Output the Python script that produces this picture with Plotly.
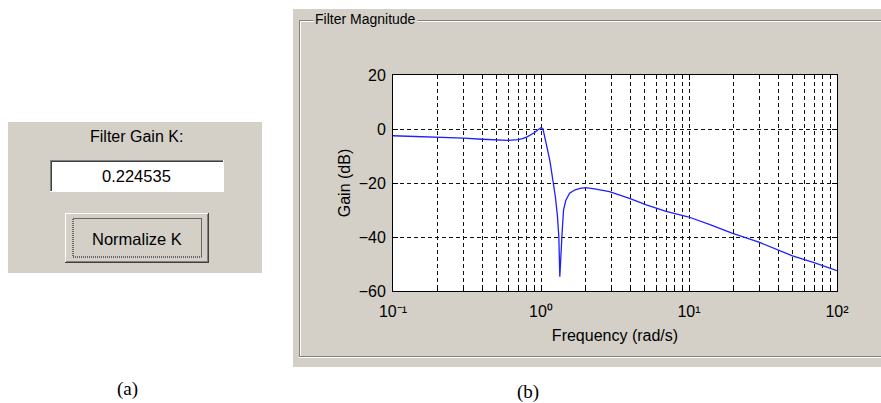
import plotly.graph_objects as go

# ---------------- data ----------------
freq_rad_s = [0.1, 0.15, 0.2, 0.3, 0.4, 0.5, 0.6, 0.7, 0.75, 0.8, 0.85, 0.9, 0.95, 1.0,
              1.03, 1.07, 1.1, 1.15, 1.2, 1.25, 1.29, 1.32, 1.34, 1.36, 1.39, 1.42,
              1.47, 1.56, 1.7, 1.84, 2.0, 2.3, 2.9, 4.0, 5.15, 7.0, 9.85, 14.0, 19.5,
              30.0, 50.0, 70.0, 100.0]
gain_db = [-2.5, -2.8, -3.0, -3.4, -3.8, -4.1, -4.2, -3.9, -3.6, -3.0, -2.3, -1.4, -0.4, 0.5,
           0.1, -3.5, -7.0, -12.0, -18.0, -25.0, -32.0, -40.0, -54.7, -45.0, -38.0, -30.0,
           -26.5, -23.8, -22.5, -22.0, -21.7, -22.2, -23.2, -25.8, -28.1, -30.5, -32.5, -35.5, -38.6,
           -42.0, -47.0, -49.5, -52.5]

x_major_vals = [0.1, 1, 10, 100]
x_major_text = ["10⁻¹", "10⁰", "10¹", "10²"]
x_minor_vals = [0.2, 0.3, 0.4, 0.5, 0.6, 0.7, 0.8, 0.9,
                2, 3, 4, 5, 6, 7, 8, 9,
                20, 30, 40, 50, 60, 70, 80, 90]
y_tick_vals = [-60, -40, -20, 0, 20]

gain_k_label = "Filter Gain K:"
gain_k_value = "0.224535"
button_label = "Normalize K"
panel_title = "Filter Magnitude"

# ---------------- layout helpers ----------------
W, H = 881, 403
GRAY = "#D4D0C8"
FONT = "Liberation Sans, Arial, sans-serif"


def X(px):
    return px / W


def Y(py):
    return 1 - py / H


def rect(x0, y0, x1, y1, fill, line=None, dash=None, width=1):
    d = dict(type="rect", xref="paper", yref="paper",
             x0=X(x0), y0=Y(y1), x1=X(x1), y1=Y(y0), fillcolor=fill, layer="below")
    if line:
        d["line"] = dict(color=line, width=width, dash=dash or "solid")
    else:
        d["line"] = dict(width=0)
    return d


def hline(x0, x1, y, color, width=1, dash="solid"):
    return dict(type="line", xref="paper", yref="paper", x0=X(x0), x1=X(x1), y0=Y(y), y1=Y(y),
                line=dict(color=color, width=width, dash=dash), layer="below")


def vline(x, y0, y1, color, width=1, dash="solid"):
    return dict(type="line", xref="paper", yref="paper", x0=X(x), x1=X(x), y0=Y(y0), y1=Y(y1),
                line=dict(color=color, width=width, dash=dash), layer="below")


shapes = [
    # panel (a)
    rect(8, 122, 262, 273, GRAY),
    # edit box (sunken)
    rect(50, 160, 224, 192, "white"),
    hline(50, 224, 160.5, "#808080"), hline(51, 223, 161.5, "#404040"),
    vline(50.5, 160, 192, "#808080"), vline(51.5, 161, 191, "#404040"),
    hline(50, 224, 191.5, "white"), vline(223.5, 160, 192, "white"),
    # button (raised)
    rect(65, 213, 209, 263, GRAY),
    hline(65, 209, 213.5, "white"), vline(65.5, 213, 263, "white"),
    hline(65, 209, 262.5, "#404040"), vline(208.5, 213, 263, "#404040"),
    hline(66, 208, 261.5, "#808080"), vline(207.5, 214, 262, "#808080"),
    rect(73, 218.5, 201.5, 257, "rgba(0,0,0,0)", line="black", dash="1px,1px"),
    # panel (b)
    rect(293, 9, 881, 367, GRAY),
    hline(299, 881, 20.5, "#808080"), hline(300, 881, 21.5, "white"),
    vline(299.5, 20, 357, "#808080"), vline(300.5, 21, 357, "white"),
    hline(299, 881, 356.5, "#808080"), hline(299, 881, 357.5, "white"),
    # plot area background
    dict(type="rect", xref="x domain", yref="y domain", x0=0, x1=1, y0=0, y1=1,
         fillcolor="white", line=dict(width=0), layer="below"),
]

annotations = [
    dict(text=gain_k_label, x=X(136.5), y=Y(136), font=dict(size=16, family=FONT, color="black")),
    dict(text=gain_k_value, x=X(136.5), y=Y(176), font=dict(size=16.5, family=FONT, color="black")),
    dict(text=button_label, x=X(136.5), y=Y(238.5), font=dict(size=16.5, family=FONT, color="black")),
    dict(text=panel_title, x=X(365.5), y=Y(19), font=dict(size=14, family=FONT, color="black"),
         bgcolor=GRAY, borderpad=1),
    dict(text="(a)", x=X(127.5), y=Y(389), font=dict(size=19, family="Liberation Serif, Times New Roman, serif", color="black")),
    dict(text="(b)", x=X(528), y=Y(392), font=dict(size=19, family="Liberation Serif, Times New Roman, serif", color="black")),
]
for a in annotations:
    a.update(xref="paper", yref="paper", showarrow=False, xanchor="center", yanchor="middle")

fig = go.Figure()
fig.add_trace(go.Scatter(x=freq_rad_s, y=gain_db, mode="lines",
                         line=dict(color="#1f1fff", width=1.3), showlegend=False,
                         hoverinfo="skip"))

GRID = dict(gridcolor="#111111", gridwidth=1, griddash="4px,3px")
axis_common = dict(
    automargin=False,
    showgrid=True, **GRID,
    showline=True, linecolor="black", linewidth=1, mirror="ticks",
    ticks="inside", ticklen=5, tickcolor="black", zeroline=False,
    tickfont=dict(size=16, family=FONT, color="black"),
)

fig.update_layout(
    width=W, height=H,
    margin=dict(l=0, r=0, t=0, b=0, autoexpand=False),
    paper_bgcolor="white", plot_bgcolor="white",
    shapes=shapes, annotations=annotations,
    xaxis=dict(type="log", range=[-1, 2], domain=[X(393), X(837)],
               tickmode="array", tickvals=x_major_vals, ticktext=x_major_text,
               ticklabelstandoff=6,
               minor=dict(tickmode="array", tickvals=x_minor_vals, ticks="inside", ticklen=4,
                          tickcolor="black", showgrid=True, **GRID),
               title=dict(text="Frequency (rad/s)", font=dict(size=16, family=FONT, color="black"),
                          standoff=10),
               **axis_common),
    yaxis=dict(range=[-60, 20], domain=[Y(291), Y(75)],
               tickmode="array", tickvals=y_tick_vals,
               ticklabelstandoff=3,
               title=dict(text="Gain (dB)", font=dict(size=16, family=FONT, color="black"),
                          standoff=4),
               **axis_common),
)

fig.write_html("out.html", post_script="document.body.style.margin='0px';")
